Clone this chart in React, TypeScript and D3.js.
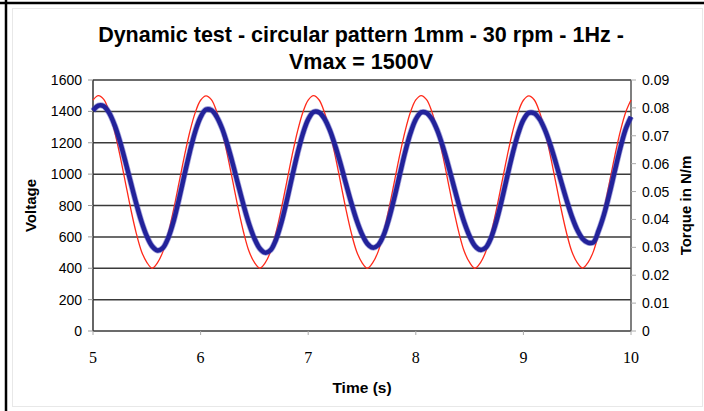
import React from 'react';
import * as d3 from 'd3';

const W = 704;
const H = 411;

const title1 = 'Dynamic test - circular pattern 1mm - 30 rpm - 1Hz -';
const title2 = 'Vmax = 1500V';
const xTitle = 'Time (s)';
const yLeftTitle = 'Voltage';
const yRightTitle = 'Torque in N/m';

const xTicks = [5, 6, 7, 8, 9, 10];
const voltTicks = [0, 200, 400, 600, 800, 1000, 1200, 1400, 1600];
const torqueTicks = [0, 0.01, 0.02, 0.03, 0.04, 0.05, 0.06, 0.07, 0.08, 0.09];

// samples every 0.05 s from t = 5 to t = 10
const tStart = 5;
const tStep = 0.05;

// applied voltage (V), red
const voltage = [
  1472, 1500, 1476, 1398, 1275, 1121, 951, 781, 629, 509, 438, 400, 436, 506, 624, 777, 947, 1117, 1270, 1392,
  1471, 1499, 1475, 1397, 1274, 1120, 950, 780, 628, 508, 437, 401, 435, 505, 625, 778, 948, 1118, 1271, 1393,
  1472, 1500, 1474, 1396, 1273, 1119, 949, 779, 627, 507, 436, 400, 436, 506, 626, 779, 949, 1119, 1272, 1394,
  1473, 1501, 1475, 1397, 1275, 1121, 951, 781, 629, 508, 437, 400, 435, 505, 624, 777, 947, 1117, 1270, 1392,
  1471, 1499, 1474, 1396, 1274, 1120, 950, 780, 628, 507, 436, 401, 436, 506, 625, 778, 948, 1118, 1271, 1393,
  1472,
];

// measured torque (N/m), blue
const torque = [
  0.0790, 0.0808, 0.0806, 0.0782, 0.0739, 0.0680, 0.0609, 0.0534, 0.0460, 0.0393, 0.0340, 0.0304, 0.0289, 0.0298, 0.0335, 0.0395, 0.0474, 0.0560, 0.0643, 0.0715,
  0.0767, 0.0794, 0.0792, 0.0768, 0.0726, 0.0667, 0.0598, 0.0523, 0.0450, 0.0384, 0.0332, 0.0296, 0.0281, 0.0290, 0.0327, 0.0388, 0.0466, 0.0552, 0.0635, 0.0707,
  0.0759, 0.0785, 0.0784, 0.0762, 0.0721, 0.0665, 0.0600, 0.0529, 0.0460, 0.0397, 0.0347, 0.0313, 0.0299, 0.0308, 0.0343, 0.0402, 0.0477, 0.0559, 0.0640, 0.0709,
  0.0759, 0.0784, 0.0782, 0.0760, 0.0719, 0.0663, 0.0596, 0.0524, 0.0453, 0.0390, 0.0340, 0.0305, 0.0291, 0.0299, 0.0335, 0.0395, 0.0471, 0.0555, 0.0636, 0.0706,
  0.0757, 0.0782, 0.0781, 0.0760, 0.0721, 0.0668, 0.0605, 0.0537, 0.0471, 0.0411, 0.0363, 0.0331, 0.0317, 0.0318, 0.0361, 0.0419, 0.0493, 0.0575, 0.0655, 0.0723,
  0.0768,
];

const margin = { top: 80, right: 73, bottom: 80, left: 93 };

export default function App() {
  const x0 = margin.left;
  const x1 = W - margin.right;
  const y0 = H - margin.bottom;
  const y1 = margin.top;

  const x = d3.scaleLinear().domain([5, 10]).range([x0, x1]);
  const yV = d3.scaleLinear().domain([0, 1600]).range([y0, y1]);
  const yT = d3.scaleLinear().domain([0, 0.09]).range([y0, y1]);

  const redLine = d3
    .line<number>()
    .x((d, i) => x(tStart + i * tStep))
    .y((d) => yV(d))
    .curve(d3.curveCatmullRom.alpha(0.5));

  const blueLine = d3
    .line<number>()
    .x((d, i) => x(tStart + i * tStep))
    .y((d) => yT(d))
    .curve(d3.curveCatmullRom.alpha(0.5));

  const sans = 'Arial, "Liberation Sans", Helvetica, sans-serif';
  const midY = (y0 + y1) / 2;

  return (
    <svg width={W} height={H} style={{ position: 'absolute', left: 0, top: 0, background: '#fff' }}>
      {/* frame */}
      <rect x={12.5} y={8.5} width={690} height={398} fill="none" stroke="#e8e8e8" strokeWidth={1} />
      <line x1={0} x2={W} y1={3} y2={3} stroke="#000" strokeWidth={2.5} />
      <line x1={6} x2={6} y1={0} y2={H} stroke="#000" strokeWidth={2.5} />

      {/* title */}
      <text x={361} y={42} textAnchor="middle" fontFamily={sans} fontWeight="bold" fontSize={21.5}>
        {title1}
      </text>
      <text x={361} y={69} textAnchor="middle" fontFamily={sans} fontWeight="bold" fontSize={21.5}>
        {title2}
      </text>

      {/* gridlines */}
      {voltTicks.map((v) => (
        <line key={'g' + v} x1={x0} x2={x1} y1={yV(v)} y2={yV(v)} stroke="#3a3a3a" strokeWidth={1.5} />
      ))}

      {/* axes */}
      <line x1={x0} x2={x0} y1={y1} y2={y0} stroke="#333" strokeWidth={1.5} />
      <line x1={x1} x2={x1} y1={y1} y2={y0} stroke="#555" strokeWidth={1.5} />

      {voltTicks.map((v) => (
        <g key={'l' + v}>
          <line x1={x0 - 5} x2={x0} y1={yV(v)} y2={yV(v)} stroke="#999" strokeWidth={1} />
          <text x={x0 - 11} y={yV(v) + 5} textAnchor="end" fontFamily={sans} fontSize={14}>
            {v}
          </text>
        </g>
      ))}

      {torqueTicks.map((v) => (
        <g key={'r' + v}>
          <line x1={x1} x2={x1 + 5} y1={yT(v)} y2={yT(v)} stroke="#aaa" strokeWidth={1} />
          <text x={x1 + 11} y={yT(v) + 5} textAnchor="start" fontFamily={sans} fontSize={14}>
            {v === 0 ? '0' : v.toFixed(2)}
          </text>
        </g>
      ))}

      {xTicks.map((t) => (
        <g key={'x' + t}>
          <line x1={x(t)} x2={x(t)} y1={y0} y2={y0 + 4} stroke="#aaa" strokeWidth={1} />
          <text x={x(t)} y={y0 + 32} textAnchor="middle" fontFamily='"Liberation Serif", "Times New Roman", serif' fontSize={16}>
            {t}
          </text>
        </g>
      ))}

      {/* series */}
      <path d={redLine(voltage) || ''} fill="none" stroke="#ff2a1a" strokeWidth={1.3} />
      <path d={blueLine(torque) || ''} fill="none" stroke="#4848b8" strokeWidth={6} strokeLinejoin="round" strokeOpacity={0.5} />
      <path d={blueLine(torque) || ''} fill="none" stroke="#22229a" strokeWidth={4.5} strokeLinejoin="round" />

      {/* axis titles */}
      <text x={(x0 + x1) / 2} y={393} textAnchor="middle" fontFamily={sans} fontWeight="bold" fontSize={15.5}>
        {xTitle}
      </text>
      <text
        transform={`translate(36,${midY}) rotate(-90)`}
        textAnchor="middle"
        fontFamily={sans}
        fontWeight="bold"
        fontSize={15}
      >
        {yLeftTitle}
      </text>
      <text
        transform={`translate(691,${midY}) rotate(-90)`}
        textAnchor="middle"
        fontFamily={sans}
        fontWeight="bold"
        fontSize={15}
      >
        {yRightTitle}
      </text>
    </svg>
  );
}
